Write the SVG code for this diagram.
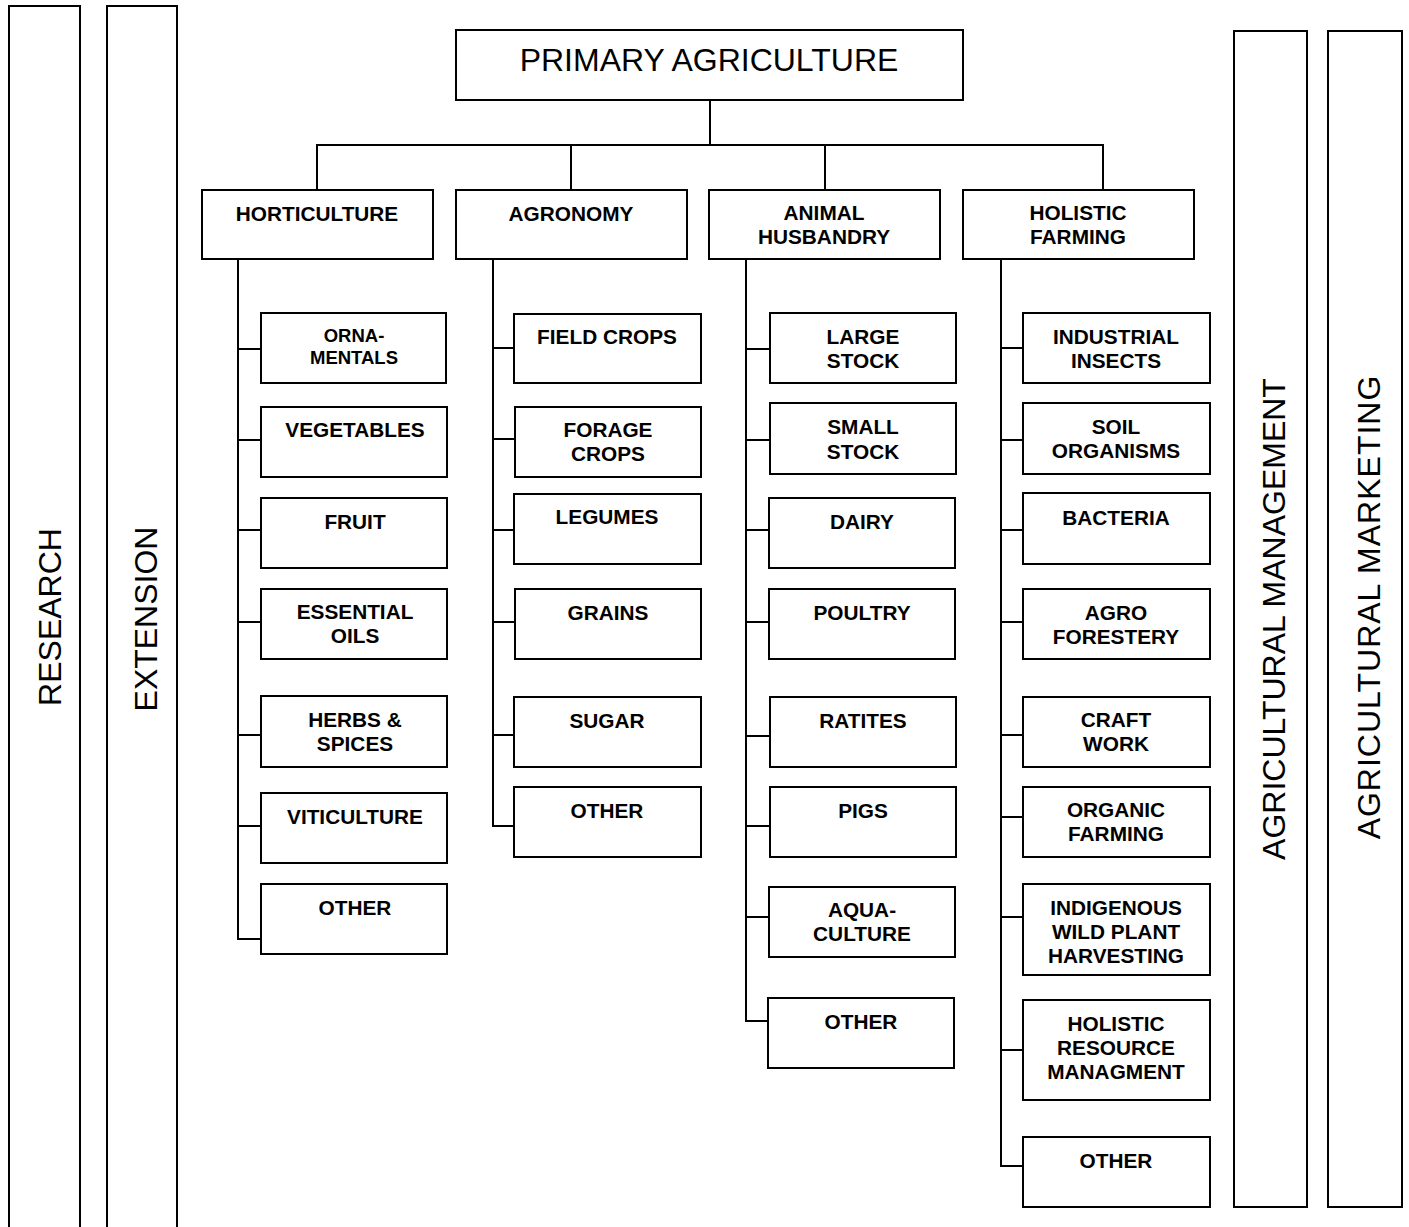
<svg xmlns="http://www.w3.org/2000/svg" width="1409" height="1227" viewBox="0 0 1409 1227">
<style>
rect{fill:#fff;stroke:#000;stroke-width:2}
.c{fill:none;stroke:#000;stroke-width:2}
text{font-family:"Liberation Sans",Arial,sans-serif;fill:#000;text-anchor:middle}
.b{font-weight:bold;font-size:20.8px}
.s{font-weight:bold;font-size:18.5px}
.big{font-size:32px}
</style>
<rect width="1409" height="1227" style="stroke:none"/>
<g id="research"><path class="c" d="M9,1230 V6 H80 V1230"/><text class="big" transform="translate(61,617) rotate(-90)">RESEARCH</text></g>
<g id="extension"><path class="c" d="M107,1230 V6 H177 V1230"/><text class="big" transform="translate(157,619) rotate(-90)">EXTENSION</text></g>
<g id="mgmt"><rect x="1234" y="31" width="73" height="1176"/><text class="big" transform="translate(1285,619) rotate(-90)">AGRICULTURAL MANAGEMENT</text></g>
<g id="mkt"><rect x="1328" y="31" width="74" height="1176"/><text class="big" style="letter-spacing:1px" transform="translate(1380,607) rotate(-90)">AGRICULTURAL MARKETING</text></g>
<g id="connectors">
<path class="c" d="M710,100 V145 M317,190 V145 H1103 V190 M571,145 V190 M825,145 V190"/>
<path class="c" d="M238,259 V939 H261 M238,349 H261 M238,440 H261 M238,530 H261 M238,622 H261 M238,735 H261 M238,826 H261"/>
<path class="c" d="M493,259 V826 H514 M493,348 H514 M493,439 H514 M493,530 H514 M493,622 H514 M493,735 H514"/>
<path class="c" d="M746,259 V1021 H769 M746,349 H770 M746,440 H770 M746,530 H770 M746,622 H770 M746,736 H770 M746,826 H770 M746,917 H770"/>
<path class="c" d="M1001,259 V1166 H1023 M1001,348 H1023 M1001,440 H1023 M1001,530 H1023 M1001,622 H1023 M1001,735 H1023 M1001,817 H1023 M1001,917 H1023 M1001,1050 H1023"/>
</g>
<g id="primary"><rect x="456" y="30" width="507" height="70"/><text class="big" x="709" y="71">PRIMARY AGRICULTURE</text></g>
<g id="horticulture"><rect x="202" y="190" width="231" height="69"/><text class="b" x="317" y="221">HORTICULTURE</text></g>
<g id="agronomy"><rect x="456" y="190" width="231" height="69"/><text class="b" x="571" y="221">AGRONOMY</text></g>
<g id="animal"><rect x="709" y="190" width="231" height="69"/><text class="b" x="824" y="220">ANIMAL</text><text class="b" x="824" y="244">HUSBANDRY</text></g>
<g id="holistic"><rect x="963" y="190" width="231" height="69"/><text class="b" x="1078" y="220">HOLISTIC</text><text class="b" x="1078" y="244">FARMING</text></g>

<g id="h1"><rect x="261" y="313" width="185" height="70"/><text class="s" x="354" y="342">ORNA-</text><text class="s" x="354" y="364">MENTALS</text></g>
<g id="h2"><rect x="261" y="407" width="186" height="70"/><text class="b" x="355" y="437">VEGETABLES</text></g>
<g id="h3"><rect x="261" y="498" width="186" height="70"/><text class="b" x="355" y="529">FRUIT</text></g>
<g id="h4"><rect x="261" y="589" width="186" height="70"/><text class="b" x="355" y="619">ESSENTIAL</text><text class="b" x="355" y="643">OILS</text></g>
<g id="h5"><rect x="261" y="696" width="186" height="71"/><text class="b" x="355" y="727">HERBS &amp;</text><text class="b" x="355" y="751">SPICES</text></g>
<g id="h6"><rect x="261" y="793" width="186" height="70"/><text class="b" x="355" y="824">VITICULTURE</text></g>
<g id="h7"><rect x="261" y="884" width="186" height="70"/><text class="b" x="355" y="915">OTHER</text></g>

<g id="a1"><rect x="514" y="314" width="187" height="69"/><text class="b" x="607" y="344">FIELD CROPS</text></g>
<g id="a2"><rect x="515" y="407" width="186" height="70"/><text class="b" x="608" y="437">FORAGE</text><text class="b" x="608" y="461">CROPS</text></g>
<g id="a3"><rect x="514" y="494" width="187" height="70"/><text class="b" x="607" y="524">LEGUMES</text></g>
<g id="a4"><rect x="515" y="589" width="186" height="70"/><text class="b" x="608" y="620">GRAINS</text></g>
<g id="a5"><rect x="514" y="697" width="187" height="70"/><text class="b" x="607" y="728">SUGAR</text></g>
<g id="a6"><rect x="514" y="787" width="187" height="70"/><text class="b" x="607" y="818">OTHER</text></g>

<g id="n1"><rect x="770" y="313" width="186" height="70"/><text class="b" x="863" y="344">LARGE</text><text class="b" x="863" y="368">STOCK</text></g>
<g id="n2"><rect x="770" y="403" width="186" height="71"/><text class="b" x="863" y="434">SMALL</text><text class="b" x="863" y="459">STOCK</text></g>
<g id="n3"><rect x="769" y="498" width="186" height="70"/><text class="b" x="862" y="529">DAIRY</text></g>
<g id="n4"><rect x="769" y="589" width="186" height="70"/><text class="b" x="862" y="620">POULTRY</text></g>
<g id="n5"><rect x="770" y="697" width="186" height="70"/><text class="b" x="863" y="728">RATITES</text></g>
<g id="n6"><rect x="770" y="787" width="186" height="70"/><text class="b" x="863" y="818">PIGS</text></g>
<g id="n7"><rect x="769" y="887" width="186" height="70"/><text class="b" x="862" y="917">AQUA-</text><text class="b" x="862" y="941">CULTURE</text></g>
<g id="n8"><rect x="768" y="998" width="186" height="70"/><text class="b" x="861" y="1029">OTHER</text></g>

<g id="f1"><rect x="1023" y="313" width="187" height="70"/><text class="b" x="1116" y="344">INDUSTRIAL</text><text class="b" x="1116" y="368">INSECTS</text></g>
<g id="f2"><rect x="1023" y="403" width="187" height="71"/><text class="b" x="1116" y="434">SOIL</text><text class="b" x="1116" y="458">ORGANISMS</text></g>
<g id="f3"><rect x="1023" y="493" width="187" height="71"/><text class="b" x="1116" y="525">BACTERIA</text></g>
<g id="f4"><rect x="1023" y="589" width="187" height="70"/><text class="b" x="1116" y="620">AGRO</text><text class="b" x="1116" y="644">FORESTERY</text></g>
<g id="f5"><rect x="1023" y="697" width="187" height="70"/><text class="b" x="1116" y="727">CRAFT</text><text class="b" x="1116" y="751">WORK</text></g>
<g id="f6"><rect x="1023" y="787" width="187" height="70"/><text class="b" x="1116" y="817">ORGANIC</text><text class="b" x="1116" y="841">FARMING</text></g>
<g id="f7"><rect x="1023" y="884" width="187" height="91"/><text class="b" x="1116" y="915">INDIGENOUS</text><text class="b" x="1116" y="939">WILD PLANT</text><text class="b" x="1116" y="963">HARVESTING</text></g>
<g id="f8"><rect x="1023" y="1000" width="187" height="100"/><text class="b" x="1116" y="1031">HOLISTIC</text><text class="b" x="1116" y="1055">RESOURCE</text><text class="b" x="1116" y="1079">MANAGMENT</text></g>
<g id="f9"><rect x="1023" y="1137" width="187" height="70"/><text class="b" x="1116" y="1168">OTHER</text></g>
</svg>
